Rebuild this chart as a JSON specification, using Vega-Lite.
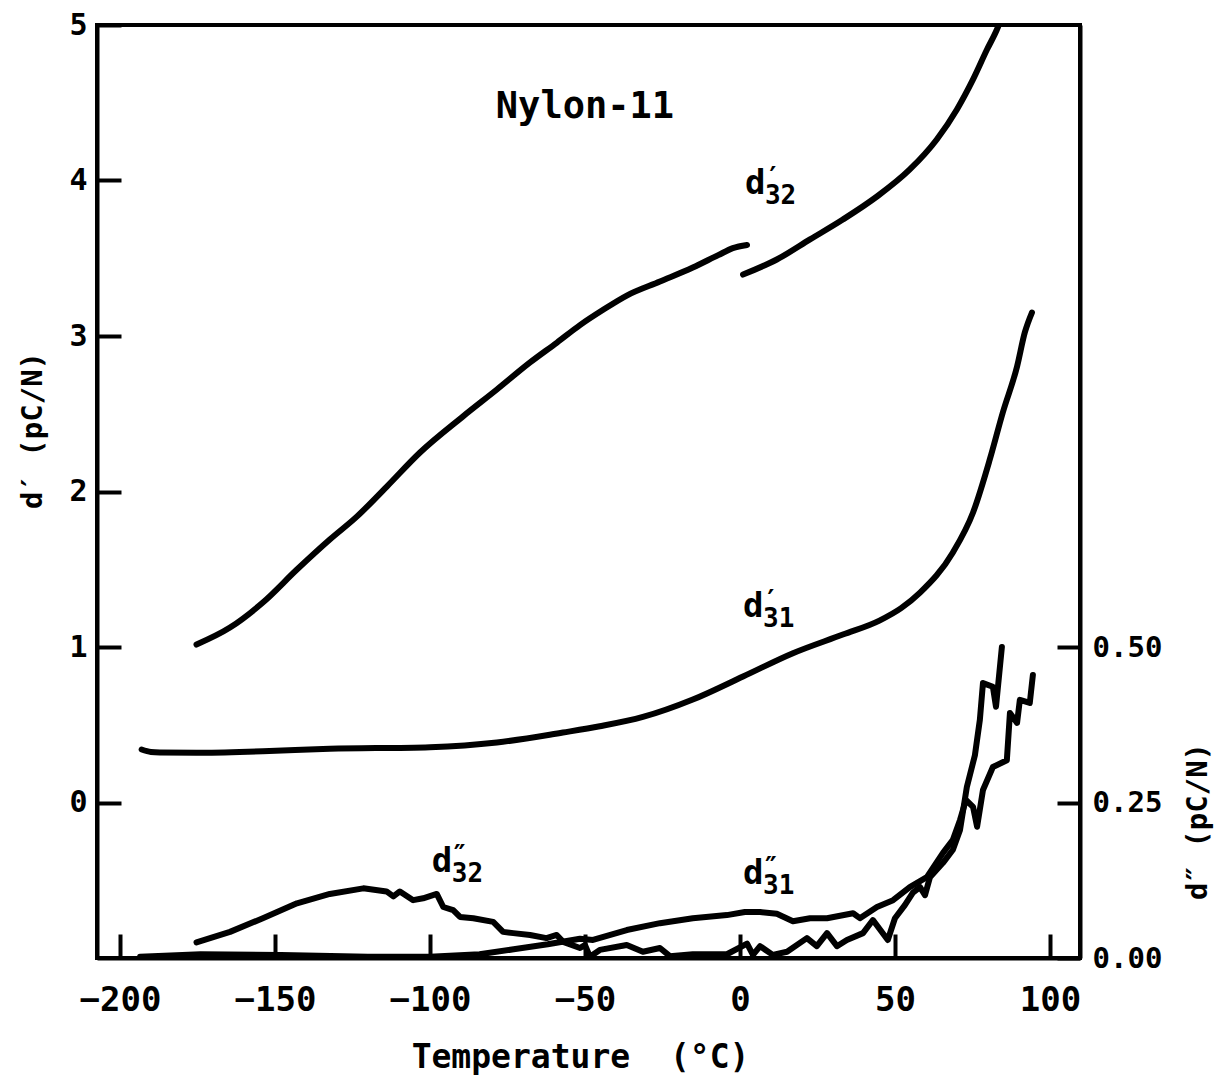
{
  "$schema": "https://vega.github.io/schema/vega-lite/v6.json",
  "width": 983,
  "height": 933,
  "autosize": {"type": "none"},
  "padding": {"left": 97, "top": 25, "right": 150, "bottom": 120},
  "background": "white",
  "config": {
    "font": "DejaVu Sans Mono",
    "view": {"stroke": "black", "strokeWidth": 4},
    "axis": {
      "grid": false,
      "domainColor": "black",
      "domainWidth": 4,
      "tickColor": "black",
      "tickWidth": 4,
      "labelColor": "black",
      "labelFont": "DejaVu Sans Mono",
      "labelFontWeight": "bold",
      "labelFlush": false,
      "labelOverlap": false,
      "titleColor": "black",
      "titleFont": "DejaVu Sans Mono",
      "titleFontWeight": "bold"
    }
  },
  "datasets": {
    "dprime": [
      {"c": "d32a", "T": -175.3, "v": 1.016}, {"c": "d32a", "T": -164.5, "v": 1.125}, {"c": "d32a", "T": -153.9, "v": 1.286},
      {"c": "d32a", "T": -142.9, "v": 1.498}, {"c": "d32a", "T": -132.3, "v": 1.691}, {"c": "d32a", "T": -123.5, "v": 1.84},
      {"c": "d32a", "T": -113.9, "v": 2.032}, {"c": "d32a", "T": -103.2, "v": 2.251}, {"c": "d32a", "T": -89.4, "v": 2.482},
      {"c": "d32a", "T": -78.4, "v": 2.656}, {"c": "d32a", "T": -67.7, "v": 2.83}, {"c": "d32a", "T": -59.0, "v": 2.958},
      {"c": "d32a", "T": -51.6, "v": 3.07}, {"c": "d32a", "T": -44.0, "v": 3.17}, {"c": "d32a", "T": -36.5, "v": 3.26},
      {"c": "d32a", "T": -25.8, "v": 3.35}, {"c": "d32a", "T": -15.2, "v": 3.44}, {"c": "d32a", "T": -7.0, "v": 3.52},
      {"c": "d32a", "T": -2.3, "v": 3.565}, {"c": "d32a", "T": 2.3, "v": 3.585},
      {"c": "d32b", "T": 1.0, "v": 3.395}, {"c": "d32b", "T": 11.9, "v": 3.492}, {"c": "d32b", "T": 22.6, "v": 3.621},
      {"c": "d32b", "T": 33.2, "v": 3.749}, {"c": "d32b", "T": 44.2, "v": 3.897}, {"c": "d32b", "T": 54.8, "v": 4.071},
      {"c": "d32b", "T": 63.5, "v": 4.264}, {"c": "d32b", "T": 70.0, "v": 4.457}, {"c": "d32b", "T": 75.2, "v": 4.65},
      {"c": "d32b", "T": 79.7, "v": 4.842}, {"c": "d32b", "T": 82.9, "v": 4.971}, {"c": "d32b", "T": 83.5, "v": 5.0},
      {"c": "d31", "T": -193.0, "v": 0.341}, {"c": "d31", "T": -190.0, "v": 0.325}, {"c": "d31", "T": -187.1, "v": 0.322},
      {"c": "d31", "T": -175.3, "v": 0.32}, {"c": "d31", "T": -153.9, "v": 0.33}, {"c": "d31", "T": -132.3, "v": 0.345},
      {"c": "d31", "T": -100.0, "v": 0.356}, {"c": "d31", "T": -78.4, "v": 0.386}, {"c": "d31", "T": -57.1, "v": 0.45},
      {"c": "d31", "T": -45.2, "v": 0.49}, {"c": "d31", "T": -31.3, "v": 0.55}, {"c": "d31", "T": -15.2, "v": 0.662},
      {"c": "d31", "T": 1.0, "v": 0.81}, {"c": "d31", "T": 17.1, "v": 0.96}, {"c": "d31", "T": 33.2, "v": 1.08},
      {"c": "d31", "T": 45.0, "v": 1.17}, {"c": "d31", "T": 52.0, "v": 1.25}, {"c": "d31", "T": 58.1, "v": 1.35},
      {"c": "d31", "T": 68.7, "v": 1.608}, {"c": "d31", "T": 75.2, "v": 1.865}, {"c": "d31", "T": 80.6, "v": 2.206},
      {"c": "d31", "T": 84.8, "v": 2.508}, {"c": "d31", "T": 89.4, "v": 2.804}, {"c": "d31", "T": 91.9, "v": 3.023},
      {"c": "d31", "T": 94.2, "v": 3.151}
    ],
    "ddouble": [
      {"c": "d32", "T": -175.3, "v": 0.025}, {"c": "d32", "T": -164.5, "v": 0.042}, {"c": "d32", "T": -153.9, "v": 0.064},
      {"c": "d32", "T": -142.9, "v": 0.088}, {"c": "d32", "T": -132.3, "v": 0.103}, {"c": "d32", "T": -121.5, "v": 0.112},
      {"c": "d32", "T": -114.0, "v": 0.107}, {"c": "d32", "T": -111.8, "v": 0.099}, {"c": "d32", "T": -109.7, "v": 0.107},
      {"c": "d32", "T": -105.4, "v": 0.093}, {"c": "d32", "T": -102.2, "v": 0.096}, {"c": "d32", "T": -97.8, "v": 0.103},
      {"c": "d32", "T": -95.7, "v": 0.082}, {"c": "d32", "T": -92.5, "v": 0.077}, {"c": "d32", "T": -90.3, "v": 0.066},
      {"c": "d32", "T": -86.0, "v": 0.064}, {"c": "d32", "T": -79.6, "v": 0.058}, {"c": "d32", "T": -76.4, "v": 0.042},
      {"c": "d32", "T": -73.1, "v": 0.04}, {"c": "d32", "T": -67.7, "v": 0.037}, {"c": "d32", "T": -62.4, "v": 0.032},
      {"c": "d32", "T": -59.1, "v": 0.037}, {"c": "d32", "T": -57.0, "v": 0.026}, {"c": "d32", "T": -51.6, "v": 0.016},
      {"c": "d32", "T": -50.0, "v": 0.021}, {"c": "d32", "T": -48.4, "v": 0.002}, {"c": "d32", "T": -45.2, "v": 0.013},
      {"c": "d32", "T": -36.5, "v": 0.021}, {"c": "d32", "T": -31.3, "v": 0.01}, {"c": "d32", "T": -25.8, "v": 0.016},
      {"c": "d32", "T": -22.6, "v": 0.003}, {"c": "d32", "T": -15.2, "v": 0.006}, {"c": "d32", "T": -4.2, "v": 0.006},
      {"c": "d32", "T": 2.3, "v": 0.023}, {"c": "d32", "T": 4.2, "v": 0.005}, {"c": "d32", "T": 6.5, "v": 0.019},
      {"c": "d32", "T": 10.6, "v": 0.005}, {"c": "d32", "T": 15.2, "v": 0.01}, {"c": "d32", "T": 21.6, "v": 0.032},
      {"c": "d32", "T": 24.8, "v": 0.019}, {"c": "d32", "T": 28.1, "v": 0.04}, {"c": "d32", "T": 31.3, "v": 0.019},
      {"c": "d32", "T": 34.5, "v": 0.029}, {"c": "d32", "T": 39.7, "v": 0.04}, {"c": "d32", "T": 42.9, "v": 0.061},
      {"c": "d32", "T": 47.7, "v": 0.029}, {"c": "d32", "T": 50.0, "v": 0.064}, {"c": "d32", "T": 53.2, "v": 0.085},
      {"c": "d32", "T": 55.8, "v": 0.105}, {"c": "d32", "T": 58.1, "v": 0.114}, {"c": "d32", "T": 59.7, "v": 0.101},
      {"c": "d32", "T": 61.3, "v": 0.13}, {"c": "d32", "T": 65.5, "v": 0.153}, {"c": "d32", "T": 68.7, "v": 0.174},
      {"c": "d32", "T": 71.0, "v": 0.206}, {"c": "d32", "T": 73.2, "v": 0.275}, {"c": "d32", "T": 75.8, "v": 0.326},
      {"c": "d32", "T": 77.4, "v": 0.383}, {"c": "d32", "T": 78.4, "v": 0.442}, {"c": "d32", "T": 81.6, "v": 0.436},
      {"c": "d32", "T": 82.6, "v": 0.404}, {"c": "d32", "T": 84.5, "v": 0.5},
      {"c": "d31", "T": -193.5, "v": 0.002}, {"c": "d31", "T": -174.0, "v": 0.006}, {"c": "d31", "T": -148.0, "v": 0.005},
      {"c": "d31", "T": -120.0, "v": 0.002}, {"c": "d31", "T": -100.0, "v": 0.002}, {"c": "d31", "T": -84.0, "v": 0.006},
      {"c": "d31", "T": -73.0, "v": 0.014}, {"c": "d31", "T": -62.0, "v": 0.022}, {"c": "d31", "T": -51.6, "v": 0.031},
      {"c": "d31", "T": -47.4, "v": 0.029}, {"c": "d31", "T": -36.5, "v": 0.045}, {"c": "d31", "T": -25.8, "v": 0.056},
      {"c": "d31", "T": -15.2, "v": 0.064}, {"c": "d31", "T": -4.2, "v": 0.069}, {"c": "d31", "T": 1.6, "v": 0.074},
      {"c": "d31", "T": 6.5, "v": 0.074}, {"c": "d31", "T": 11.9, "v": 0.071}, {"c": "d31", "T": 17.1, "v": 0.059},
      {"c": "d31", "T": 22.6, "v": 0.064}, {"c": "d31", "T": 28.1, "v": 0.064}, {"c": "d31", "T": 36.5, "v": 0.072},
      {"c": "d31", "T": 38.7, "v": 0.064}, {"c": "d31", "T": 44.2, "v": 0.082}, {"c": "d31", "T": 49.4, "v": 0.093},
      {"c": "d31", "T": 54.8, "v": 0.114}, {"c": "d31", "T": 60.3, "v": 0.13}, {"c": "d31", "T": 65.5, "v": 0.169},
      {"c": "d31", "T": 68.7, "v": 0.19}, {"c": "d31", "T": 71.0, "v": 0.222}, {"c": "d31", "T": 72.9, "v": 0.254},
      {"c": "d31", "T": 75.2, "v": 0.243}, {"c": "d31", "T": 76.5, "v": 0.211}, {"c": "d31", "T": 78.4, "v": 0.27},
      {"c": "d31", "T": 81.6, "v": 0.307}, {"c": "d31", "T": 86.1, "v": 0.318}, {"c": "d31", "T": 87.1, "v": 0.394},
      {"c": "d31", "T": 89.4, "v": 0.378}, {"c": "d31", "T": 90.3, "v": 0.415}, {"c": "d31", "T": 93.5, "v": 0.41},
      {"c": "d31", "T": 94.5, "v": 0.455}
    ],
    "labels": [
      {"T": 1.6, "v": 3.91, "d": "d", "p": "′", "s": "32"},
      {"T": 1.0, "v": 1.19, "d": "d", "p": "′", "s": "31"},
      {"T": -99.4, "v": -0.45, "d": "d", "p": "″", "s": "32"},
      {"T": 1.0, "v": -0.527, "d": "d", "p": "″", "s": "31"}
    ],
    "heading": [
      {"T": -50, "v": 4.47, "t": "Nylon-11"}
    ]
  },
  "layer": [
    {
      "encoding": {
        "x": {
          "field": "T", "type": "quantitative",
          "scale": {"domain": [-207.4, 109.7], "nice": false, "zero": false},
          "axis": {
            "values": [-200, -150, -100, -50, 0, 50, 100],
            "format": "d",
            "tickSize": -24,
            "labelFontSize": 34,
            "labelBaseline": "middle",
            "labelPadding": 66,
            "labelAngle": 0,
            "title": "Temperature\u00a0 (°C)",
            "titleFontSize": 33,
            "titleX": 483,
            "titleY": 99,
            "titleBaseline": "middle",
            "titleAlign": "center"
          }
        },
        "y": {
          "field": "v", "type": "quantitative",
          "scale": {"domain": [-1, 5], "nice": false, "zero": false},
          "axis": {
            "values": [0, 1, 2, 3, 4, 5],
            "format": "d",
            "tickSize": -24,
            "labelFontSize": 30,
            "labelPadding": 34,
            "title": "d′ (pC/N)",
            "titleFontSize": 29,
            "titleAngle": 270,
            "titleX": -65,
            "titleY": 405,
            "titleBaseline": "middle",
            "titleAlign": "center"
          }
        }
      },
      "layer": [
        {
          "data": {"name": "dprime"},
          "mark": {"type": "line", "color": "black", "strokeWidth": 6, "strokeCap": "round", "strokeJoin": "round", "interpolate": "monotone", "clip": true},
          "encoding": {"detail": {"field": "c", "type": "nominal"}}
        },
        {
          "data": {"name": "labels"},
          "mark": {"type": "text", "color": "black", "fontSize": 34, "fontWeight": "bold", "align": "left", "baseline": "alphabetic"},
          "encoding": {"text": {"field": "d"}}
        },
        {
          "data": {"name": "labels"},
          "mark": {"type": "text", "color": "black", "fontSize": 26, "fontWeight": "bold", "align": "left", "baseline": "alphabetic", "dx": 20, "dy": -8},
          "encoding": {"text": {"field": "p"}}
        },
        {
          "data": {"name": "labels"},
          "mark": {"type": "text", "color": "black", "fontSize": 26, "fontWeight": "bold", "align": "left", "baseline": "alphabetic", "dx": 20, "dy": 10},
          "encoding": {"text": {"field": "s"}}
        },
        {
          "data": {"name": "heading"},
          "mark": {"type": "text", "color": "black", "fontSize": 37, "fontWeight": "bold", "align": "center", "baseline": "middle"},
          "encoding": {"text": {"field": "t"}}
        }
      ]
    },
    {
      "data": {"name": "ddouble"},
      "mark": {"type": "line", "color": "black", "strokeWidth": 6, "strokeCap": "round", "strokeJoin": "round", "clip": true},
      "encoding": {
        "x": {"field": "T", "type": "quantitative"},
        "y": {
          "field": "v", "type": "quantitative",
          "scale": {"domain": [0, 1.5], "nice": false, "zero": false},
          "axis": {
            "orient": "right",
            "values": [0, 0.25, 0.5],
            "format": ".2f",
            "tickSize": -23,
            "labelFontSize": 29,
            "labelPadding": 35,
            "title": "d″ (pC/N)",
            "titleFontSize": 29,
            "titleAngle": 270,
            "titleX": 117,
            "titleY": 796,
            "titleBaseline": "middle",
            "titleAlign": "center"
          }
        },
        "detail": {"field": "c", "type": "nominal"}
      }
    }
  ],
  "resolve": {"scale": {"y": "independent"}, "axis": {"y": "independent"}}
}
